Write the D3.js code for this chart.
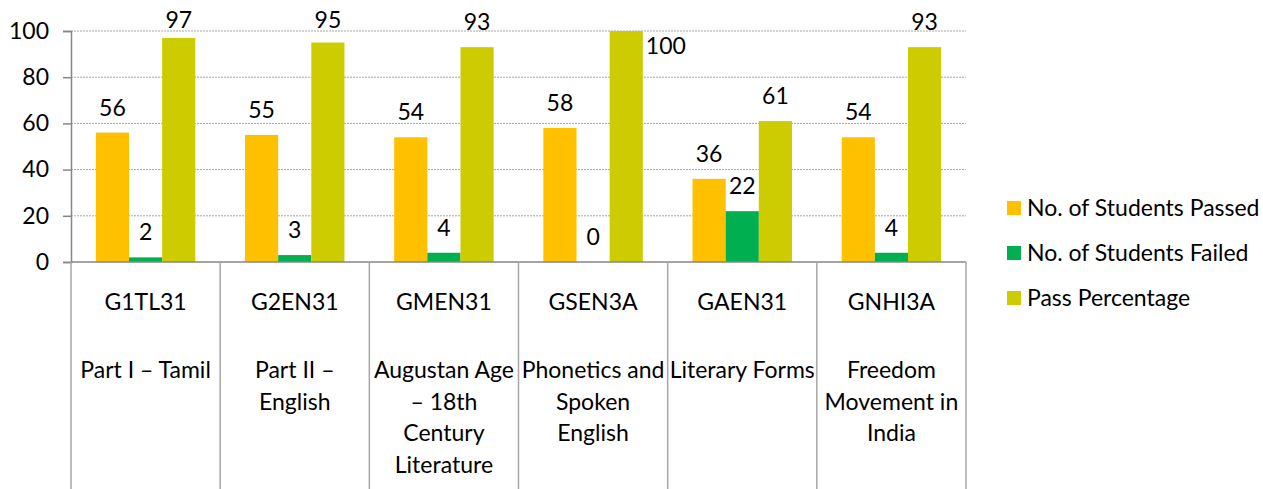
<!DOCTYPE html>
<html>
<head>
<meta charset="utf-8">
<script src="https://cdn.jsdelivr.net/npm/d3@7"></script>
<style>
  body { margin: 0; background: #fff; }
  text { font-family: Lato, "Open Sans", sans-serif; fill: #000; }
</style>
</head>
<body>
<svg id="chart" width="1263" height="489"></svg>
<script>
// data
var codes = ['G1TL31', 'G2EN31', 'GMEN31', 'GSEN3A', 'GAEN31', 'GNHI3A'];
var subjects = [
    ['Part I \u2013 Tamil'],
    ['Part II \u2013', 'English'],
    ['Augustan Age', '\u2013 18th', 'Century', 'Literature'],
    ['Phonetics and', 'Spoken', 'English'],
    ['Literary Forms'],
    ['Freedom', 'Movement in', 'India']
];
var passed = [56, 55, 54, 58, 36, 54];
var failed = [2, 3, 4, 0, 22, 4];
var passPct = [97, 95, 93, 100, 61, 93];
var seriesNames = ['No. of Students Passed', 'No. of Students Failed', 'Pass Percentage'];
var seriesColors = ['#FFC000', '#00B050', '#CCCC00'];
var yTicks = [0, 20, 40, 60, 80, 100];

var series = [passed, failed, passPct];
var fs = 23;

var svg = d3.select('#chart');
var plotLeft = 71, plotRight = 966, plotTop = 31, plotBottom = 262;

var x0 = d3.scaleBand().domain(codes).range([plotLeft, plotRight]).padding(0);
var x1 = d3.scaleBand().domain([0, 1, 2])
    .range([x0.bandwidth() / 6, x0.bandwidth() * 5 / 6]).padding(0);
var y = d3.scaleLinear().domain([0, 100]).range([plotBottom, plotTop]);

// gridlines
svg.append('g').selectAll('line')
    .data(yTicks.filter(function (d) { return d > 0; }))
    .enter().append('line')
    .attr('x1', plotLeft).attr('x2', plotRight)
    .attr('y1', function (d) { return y(d); })
    .attr('y2', function (d) { return y(d); })
    .attr('stroke', '#a6a6a6')
    .attr('stroke-width', 1)
    .attr('stroke-dasharray', '2,1');

// y axis
var yAxis = svg.append('g')
    .attr('transform', 'translate(' + plotLeft + ',0)')
    .call(d3.axisLeft(y).tickValues(yTicks).tickSize(8).tickPadding(14));
yAxis.select('.domain').attr('stroke', '#868686').attr('stroke-width', 1.5);
yAxis.selectAll('.tick line').attr('stroke', '#868686').attr('stroke-width', 1.5);
yAxis.selectAll('.tick text')
    .style('font-family', 'Lato, sans-serif')
    .style('font-size', fs + 'px')
    .attr('fill', '#000');

// bars
var groups = svg.append('g').selectAll('g')
    .data(codes)
    .enter().append('g')
    .attr('transform', function (d) { return 'translate(' + x0(d) + ',0)'; });

groups.each(function (code, ci) {
    var g = d3.select(this);
    series.forEach(function (vals, si) {
        var v = vals[ci];
        var bx = x1(si), bw = x1.bandwidth();
        g.append('rect')
            .attr('x', bx)
            .attr('width', bw)
            .attr('y', y(v))
            .attr('height', y(0) - y(v))
            .attr('fill', seriesColors[si]);
        // label above the bar, held inside the top; a full bar gets it at its side
        var ly = Math.max(y(v) - 25, 20);
        var lx = bx + bw / 2;
        var anchor = 'middle';
        if (y(v) - 25 < 10) {
            ly = y(v) + 15;
            lx = bx + bw + 3;
            anchor = 'start';
        }
        g.append('text')
            .attr('x', lx)
            .attr('y', ly)
            .attr('dy', '0.35em')
            .attr('text-anchor', anchor)
            .style('font-size', fs + 'px')
            .text(v);
    });
});

// category axis with dividers reaching the bottom
var xAxis = svg.append('g');
xAxis.append('line')
    .attr('x1', plotLeft).attr('x2', plotRight)
    .attr('y1', plotBottom).attr('y2', plotBottom)
    .attr('stroke', '#868686').attr('stroke-width', 1.5);
var edges = codes.map(function (d) { return x0(d); }).concat([plotRight]);
xAxis.selectAll('.div').data(edges).enter().append('line')
    .attr('x1', function (d) { return d; })
    .attr('x2', function (d) { return d; })
    .attr('y1', plotBottom).attr('y2', 489)
    .attr('stroke', '#a6a6a6').attr('stroke-width', 1.5);

codes.forEach(function (code, ci) {
    var cx = x0(code) + x0.bandwidth() / 2;
    xAxis.append('text')
        .attr('x', cx).attr('y', 302).attr('dy', '0.35em')
        .attr('text-anchor', 'middle')
        .style('font-size', fs + 'px')
        .text(code);
    subjects[ci].forEach(function (line, li) {
        xAxis.append('text')
            .attr('x', cx).attr('y', 370 + li * 31.5).attr('dy', '0.35em')
            .attr('text-anchor', 'middle')
            .style('font-size', fs + 'px')
            .text(line);
    });
});

// legend
var legend = svg.append('g').selectAll('g')
    .data(seriesNames)
    .enter().append('g')
    .attr('transform', function (d, i) { return 'translate(1007,' + (208 + i * 45) + ')'; });
legend.append('rect')
    .attr('x', 0).attr('y', -7)
    .attr('width', 14).attr('height', 14)
    .attr('fill', function (d, i) { return seriesColors[i]; });
legend.append('text')
    .attr('x', 20).attr('y', 0).attr('dy', '0.35em')
    .style('font-size', fs + 'px')
    .text(function (d) { return d; });
</script>
</body>
</html>
